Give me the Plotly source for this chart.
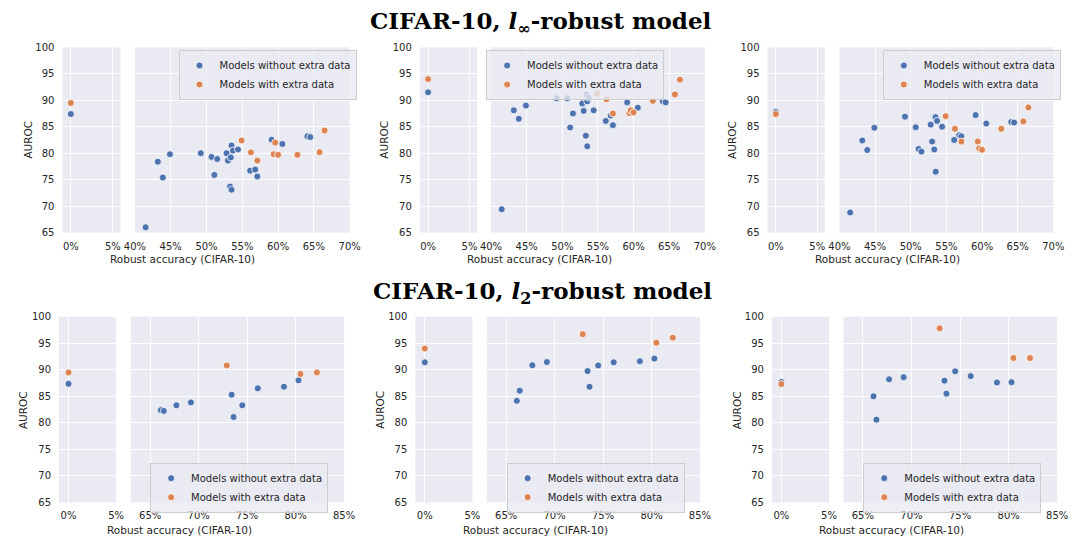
import plotly.graph_objects as go

# ---------------------------------------------------------------- data
# l_inf-robust row: robust accuracy (%) of each model
LINF_NOEXTRA_ACC = [41.5, 43.2, 43.9, 44.9, 49.2, 50.7, 51.1, 51.5, 52.8, 53.0, 53.3, 53.4,
                    53.5, 53.5, 53.7, 54.4, 56.1, 56.8, 57.1, 59.1, 60.6, 64.1, 64.5]
LINF_EXTRA_ACC = [54.9, 56.2, 57.1, 59.4, 59.6, 60.0, 62.7, 65.8, 66.5]

# AUROC per panel (left, middle, right)
LINF_NOEXTRA_AUROC = [
    [66.0, 78.4, 75.4, 79.8, 80.0, 79.3, 75.9, 78.9, 80.0, 78.6, 73.7, 79.2,
     73.1, 81.45, 80.5, 80.7, 76.7, 76.9, 75.6, 82.55, 81.75, 83.2, 83.05],
    [69.4, 88.1, 86.5, 89.0, 90.4, 90.4, 84.85, 87.5, 89.4, 88.0, 83.3, 91.1,
     81.3, 89.8, 90.5, 88.1, 86.1, 87.1, 85.3, 89.6, 88.6, 89.8, 89.6],
    [68.8, 82.4, 80.6, 84.8, 86.9, 84.9, 80.8, 80.3, 85.4, 82.2, 80.7, 86.9,
     76.5, 86.8, 86.1, 85.0, 82.5, 83.4, 83.2, 87.2, 85.6, 85.9, 85.8],
]
LINF_EXTRA_AUROC = [
    [82.4, 80.15, 78.6, 79.8, 82.0, 79.7, 79.7, 80.2, 84.3],
    [91.3, 90.2, 87.5, 87.6, 88.1, 87.7, 89.9, 91.1, 93.9],
    [87.0, 84.6, 82.2, 82.2, 80.9, 80.65, 84.6, 86.0, 88.65],
]

# l_2-robust row
L2_NOEXTRA_ACC = [66.1, 66.4, 67.7, 69.2, 73.4, 73.6, 74.5, 76.1, 78.8, 80.3]
L2_EXTRA_ACC = [72.9, 80.5, 82.2]
L2_NOEXTRA_AUROC = [
    [82.4, 82.25, 83.3, 83.85, 85.3, 81.1, 83.3, 86.5, 86.8, 88.0],
    [84.15, 86.05, 90.85, 91.45, 89.75, 86.8, 90.8, 91.4, 91.6, 92.1],
    [85.0, 80.6, 88.2, 88.6, 87.95, 85.5, 89.7, 88.8, 87.6, 87.65],
]
L2_EXTRA_AUROC = [
    [90.8, 89.2, 89.5],
    [96.7, 95.1, 96.05],
    [97.8, 92.2, 92.2],
]

# standard (non-robust) models at 0% robust accuracy: (without, with extra data)
STANDARD_ACC = 0.0
STANDARD_AUROC = [
    (87.4, 89.5), (91.5, 94.0), (87.8, 87.4),
    (87.35, 89.5), (91.4, 94.0), (87.7, 87.3),
]

ROW_TITLES = ["CIFAR-10, <i>l</i><sub>∞</sub>-robust model",
              "CIFAR-10, <i>l</i><sub>2</sub>-robust model"]
SERIES_NAMES = ["Models without extra data", "Models with extra data"]
LEFT_TICKS = [0, 5]
RIGHT_TICKS = [[40, 45, 50, 55, 60, 65, 70], [65, 70, 75, 80, 85]]
Y_TICKS = [65, 70, 75, 80, 85, 90, 95, 100]
X_TITLE = "Robust accuracy (CIFAR-10)"
Y_TITLE = "AUROC"

# ---------------------------------------------------------------- layout helpers
W, H = 1079, 542
BLUE, ORANGE = "#4C72B0", "#DD8452"
BG = "#EAEAF2"
TXT = "#262626"
FONT = "DejaVu Sans"


def px_x(v):
    return v / W


def px_y(v):
    return 1 - v / H


# pixel geometry of each panel: (left axis x0,x1), (right axis x0,x1)
PANEL_X = [
    ((52.5, 111.7), (126.5, 345.7)),
    ((417.3, 475.7), (490.0, 708.3)),
    ((772.3, 830.7), (845.7, 1064.0)),
    ((49.0, 107.3), (122.3, 340.0)),
    ((412.7, 471.0), (485.7, 703.3)),
    ((776.7, 835.0), (849.7, 1068.0)),
]
ROW_Y = [(42.3, 231.7), (317.7, 507.7)]
LEFT_RANGE = [[-1.0, 5.9], [-1.0, 5.0]]
RIGHT_RANGE = [[40, 70], [63, 85]]
LEGEND_POS = [(171, 45), (485, 45), (890, 45), (142, 467), (506, 467), (870, 467)]
XTITLE_POS = [(175.5, 259), (539, 259), (895, 259), (171.5, 536), (535, 536), (899, 536)]
YTITLE_POS = [(17, 137), (380.5, 137), (736, 137), (12.5, 413), (376.5, 413), (740.5, 413)]
TITLE_POS = [(541, 17), (543, 293)]

fig = go.Figure()
layout = dict(
    width=W, height=H, autosize=False,
    margin=dict(l=0, r=0, t=0, b=0),
    paper_bgcolor="white", plot_bgcolor=BG,
    font=dict(family=FONT, size=10, color=TXT),
    showlegend=True,
)
annotations = []

marker_base = dict(size=7, line=dict(color="white", width=0.8))

for p in range(6):
    row, col = divmod(p, 3)
    if row == 0:
        acc_a, acc_b = LINF_NOEXTRA_ACC, LINF_EXTRA_ACC
        au_a, au_b = LINF_NOEXTRA_AUROC[col], LINF_EXTRA_AUROC[col]
    else:
        acc_a, acc_b = L2_NOEXTRA_ACC, L2_EXTRA_ACC
        au_a, au_b = L2_NOEXTRA_AUROC[col], L2_EXTRA_AUROC[col]

    li, ri = 2 * p + 1, 2 * p + 2
    leg = "legend" if p == 0 else f"legend{p + 1}"
    std_a, std_b = STANDARD_AUROC[p]

    # left (broken-axis) part: standard models at 0%
    fig.add_trace(go.Scatter(x=[STANDARD_ACC], y=[std_a], mode="markers",
                             marker=dict(color=BLUE, **marker_base), showlegend=False,
                             xaxis=f"x{li}", yaxis=f"y{li}", cliponaxis=False))
    fig.add_trace(go.Scatter(x=[STANDARD_ACC], y=[std_b], mode="markers",
                             marker=dict(color=ORANGE, **marker_base), showlegend=False,
                             xaxis=f"x{li}", yaxis=f"y{li}", cliponaxis=False))
    # right part: robust models
    fig.add_trace(go.Scatter(x=acc_a, y=au_a, mode="markers", name=SERIES_NAMES[0],
                             marker=dict(color=BLUE, **marker_base), legend=leg,
                             xaxis=f"x{ri}", yaxis=f"y{ri}", cliponaxis=False))
    fig.add_trace(go.Scatter(x=acc_b, y=au_b, mode="markers", name=SERIES_NAMES[1],
                             marker=dict(color=ORANGE, **marker_base), legend=leg,
                             xaxis=f"x{ri}", yaxis=f"y{ri}", cliponaxis=False))

    (lx0, lx1), (rx0, rx1) = PANEL_X[p]
    y0, y1 = ROW_Y[row]
    ydom = [px_y(y1), px_y(y0)]
    common_x = dict(showgrid=True, gridcolor="white", gridwidth=1.2, zeroline=False,
                    showline=False, ticks="outside", ticklen=4,
                    tickcolor="rgba(0,0,0,0)", tickfont=dict(size=10, color=TXT))
    layout[f"xaxis{li}"] = dict(domain=[px_x(lx0), px_x(lx1)], range=LEFT_RANGE[row],
                                tickvals=LEFT_TICKS,
                                ticktext=[f"{t}%" for t in LEFT_TICKS],
                                anchor=f"y{li}", **common_x)
    layout[f"xaxis{ri}"] = dict(domain=[px_x(rx0), px_x(rx1)], range=RIGHT_RANGE[row],
                                tickvals=RIGHT_TICKS[row],
                                ticktext=[f"{t}%" for t in RIGHT_TICKS[row]],
                                anchor=f"y{ri}", **common_x)
    common_y = dict(domain=ydom, range=[65, 100], tickvals=Y_TICKS, showgrid=True,
                    gridcolor="white", gridwidth=1.2, zeroline=False, showline=False,
                    ticks="outside", ticklen=5, tickcolor="rgba(0,0,0,0)",
                    tickfont=dict(size=10, color=TXT))
    layout[f"yaxis{li}"] = dict(anchor=f"x{li}", **common_y)
    layout[f"yaxis{ri}"] = dict(anchor=f"x{ri}", showticklabels=False,
                                matches=f"y{li}", **common_y)

    lgx, lgy = LEGEND_POS[p]
    layout[leg] = dict(x=px_x(lgx), y=px_y(lgy), xanchor="left", yanchor="top",
                       bgcolor="rgba(234,234,242,0.8)", bordercolor="#CCCCCC",
                       borderwidth=1, font=dict(size=10, color=TXT),
                       itemsizing="trace", tracegroupgap=0)

    tx, ty = XTITLE_POS[p]
    annotations.append(dict(text=X_TITLE, x=px_x(tx), y=px_y(ty), xref="paper",
                            yref="paper", showarrow=False, xanchor="center",
                            yanchor="middle", font=dict(size=10.5, color=TXT)))
    ax, ay = YTITLE_POS[p]
    annotations.append(dict(text=Y_TITLE, x=px_x(ax), y=px_y(ay), xref="paper",
                            yref="paper", showarrow=False, textangle=-90,
                            xanchor="center", yanchor="middle",
                            font=dict(size=10.5, color=TXT)))

for r in range(2):
    tx, ty = TITLE_POS[r]
    annotations.append(dict(text=f"<b>{ROW_TITLES[r]}</b>", x=px_x(tx), y=px_y(ty),
                            xref="paper", yref="paper", showarrow=False,
                            xanchor="center", yanchor="middle",
                            font=dict(family="DejaVu Serif", size=23, color="black")))

layout["annotations"] = annotations
fig.update_layout(**layout)
fig.write_html("out.html")
